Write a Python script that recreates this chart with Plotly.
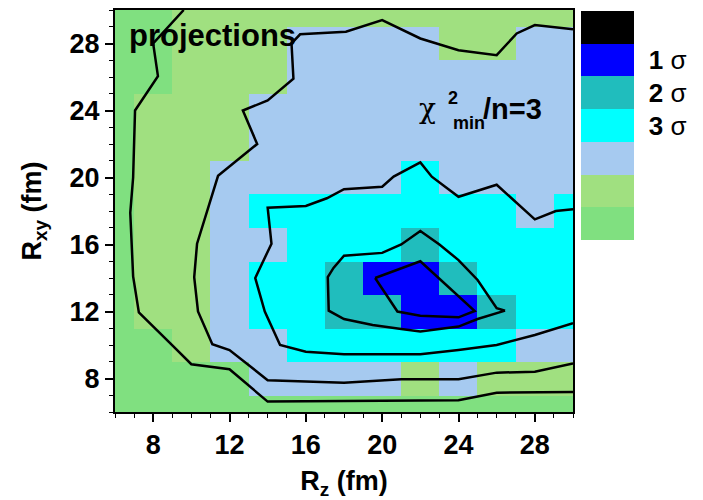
import plotly.graph_objects as go

# ---------------- data ----------------
rz_values = [6, 8, 10, 12, 14, 16, 18, 20, 22, 24, 26, 28, 30]
rxy_values_top_down = [30, 28, 26, 24, 22, 20, 18, 16, 14, 12, 10, 8, 6]

# confidence band per cell: 1 = 1 sigma, 2 = 2 sigma, 3 = 3 sigma, 4..6 = outer bands
sigma_level_rows = [
    [6, 6, 5, 5, 5, 5, 5, 5, 5, 5, 5, 5, 5],   # Rxy = 30
    [6, 6, 5, 5, 5, 4, 4, 4, 4, 5, 5, 4, 4],   # 28
    [6, 6, 5, 5, 5, 4, 4, 4, 4, 4, 4, 4, 4],   # 26
    [6, 5, 5, 5, 4, 4, 4, 4, 4, 4, 4, 4, 4],   # 24
    [6, 5, 5, 5, 4, 4, 4, 4, 4, 4, 4, 4, 4],   # 22
    [6, 5, 5, 4, 4, 4, 4, 4, 3, 4, 4, 4, 4],   # 20
    [6, 5, 5, 4, 3, 3, 3, 3, 3, 3, 3, 4, 3],   # 18
    [6, 5, 5, 4, 4, 3, 3, 3, 2, 3, 3, 3, 3],   # 16
    [6, 5, 5, 4, 3, 3, 2, 1, 1, 2, 3, 3, 3],   # 14
    [6, 5, 5, 4, 3, 3, 2, 2, 1, 1, 2, 3, 3],   # 12
    [6, 6, 5, 4, 4, 3, 3, 3, 3, 3, 3, 4, 4],   # 10
    [6, 6, 6, 6, 4, 4, 4, 4, 5, 4, 5, 5, 5],   # 8
    [6, 6, 6, 6, 6, 6, 6, 6, 6, 6, 6, 6, 6],   # 6
]

# band colours from outermost (6) to black (0)
band_colors = ["#80E080", "#A0E080", "#A6CAF0", "#00FFFF", "#20BDBD", "#0000FF", "#000000"]
sigma_ticks = [1, 2, 3]
sigma_tick_text = ["<b>1</b> σ", "<b>2</b> σ", "<b>3</b> σ"]

# contour lines (Rz, Rxy)
contour_1_rz = [19.63, 22.0, 24.85, 24.0, 22.0, 20.8, 19.63]
contour_1_rxy = [14.0, 15.0, 12.03, 11.65, 11.75, 12.0, 14.0]

contour_2_rz = [26.44, 25.0, 24.0, 22.0, 21.0, 19.5, 18.0, 17.2, 17.15, 17.45, 18.0, 20.0, 21.0, 22.0, 23.0, 24.0, 25.0, 26.0, 26.44]
contour_2_rxy = [12.05, 11.55, 11.1, 10.8, 10.95, 11.2, 11.55, 12.05, 14.05, 14.6, 15.33, 15.5, 16.0, 16.8, 16.0, 15.07, 13.88, 12.2, 12.05]

contour_3_rz = [30.0, 29.1, 28.0, 26.0, 24.0, 22.6, 22.0, 20.6, 20.0, 18.0, 17.1, 16.0, 14.0, 14.2, 13.35, 13.85, 14.65, 16.0, 18.0, 20.0, 22.0, 24.0, 26.0, 28.0, 30.0]
contour_3_rxy = [18.1, 18.0, 17.5, 19.57, 18.85, 20.05, 20.9, 20.05, 19.45, 19.3, 18.76, 18.3, 18.2, 16.05, 14.0, 12.0, 10.0, 9.6, 9.45, 9.45, 9.45, 9.7, 10.0, 10.6, 11.3]

contour_4_rz = [30.0, 28.0, 27.05, 26.0, 24.0, 22.0, 20.0, 18.1, 15.7, 15.25, 15.35, 14.0, 12.7, 13.45, 11.4, 10.3, 10.15, 10.35, 11.1, 12.0, 14.0, 18.0, 21.0, 24.0, 26.0, 28.0, 30.0]
contour_4_rxy = [28.85, 29.1, 28.6, 27.3, 27.6, 28.3, 29.4, 28.7, 28.55, 28.0, 25.9, 24.6, 24.0, 22.0, 20.1, 16.05, 14.05, 12.0, 10.05, 9.7, 7.9, 7.75, 7.95, 7.95, 8.35, 8.4, 8.9]

contour_5_rz = [9.6, 8.0, 8.25, 7.05, 6.95, 6.8, 6.95, 7.25, 8.9, 10.0, 12.0, 14.0, 20.0, 24.0, 26.0, 30.0]
contour_5_rxy = [30.0, 28.0, 26.05, 24.0, 20.0, 17.9, 14.1, 11.95, 10.1, 8.85, 8.55, 6.62, 6.67, 6.7, 7.15, 7.2]

contours = [
    (contour_1_rz, contour_1_rxy),
    (contour_2_rz, contour_2_rxy),
    (contour_3_rz, contour_3_rxy),
    (contour_4_rz, contour_4_rxy),
    (contour_5_rz, contour_5_rxy),
]

# ---------------- figure ----------------
FONT = "Liberation Sans, Arial, sans-serif"
GREEK = "DejaVu Serif, serif"

rxy_values = rxy_values_top_down[::-1]
z_vals = [[-v for v in row] for row in sigma_level_rows[::-1]]

n = len(band_colors)
colorscale = []
for i, c in enumerate(band_colors):
    colorscale.append([i / n, c])
    colorscale.append([(i + 1) / n, c])

fig = go.Figure()
fig.add_trace(go.Heatmap(
    x=rz_values, y=rxy_values, z=z_vals,
    zmin=-n + 0.5, zmax=0.5,
    colorscale=colorscale,
    hoverinfo="skip",
    colorbar=dict(
        xref="container", yref="container",
        x=581 / 703, xanchor="left",
        y=1 - 14 / 500, yanchor="top",
        lenmode="pixels", len=229,
        thickness=53, thicknessmode="pixels",
        xpad=0, ypad=0, outlinewidth=0,
        tickmode="array",
        tickvals=[-s for s in sigma_ticks],
        ticktext=sigma_tick_text,
        ticks="outside", ticklen=10, tickcolor="rgba(0,0,0,0)",
        tickfont=dict(family=FONT, size=26, color="black"),
    ),
))

for cx, cy in contours:
    fig.add_trace(go.Scatter(
        x=cx, y=cy, mode="lines",
        line=dict(color="black", width=2.5),
        showlegend=False, hoverinfo="skip",
    ))

axis_common = dict(
    showgrid=False, zeroline=False, automargin=False,
    showline=True, linecolor="black", linewidth=2, mirror=True,
    ticks="outside", ticklen=8, tickwidth=1.5, tickcolor="black",
    tick0=0, dtick=4,
    minor=dict(dtick=1, ticks="outside", ticklen=4, tickwidth=1.2, tickcolor="black"),
    tickfont=dict(family=FONT, size=27, color="black", weight="bold"),
)

fig.update_layout(
    width=703, height=500,
    margin=dict(l=115, r=130, t=10, b=88),
    paper_bgcolor="white", plot_bgcolor="white",
    showlegend=False,
    xaxis=dict(range=[6, 30], **axis_common,
               title=dict(text="R<sub>z</sub> (fm)", standoff=27,
                          font=dict(family=FONT, size=27, color="black", weight="bold"))),
    yaxis=dict(range=[6, 30], **axis_common,
               title=dict(text="R<sub>xy</sub> (fm)", standoff=20,
                          font=dict(family=FONT, size=27, color="black", weight="bold"))),
    annotations=[
        dict(x=6.65, y=28.45, xref="x", yref="y", text="projections", showarrow=False,
             xanchor="left", yanchor="middle",
             font=dict(family=FONT, size=31, color="black", weight="bold")),
        dict(x=21.85, y=24.09, xref="x", yref="y", text="χ", showarrow=False,
             xanchor="left", yanchor="middle",
             font=dict(family=GREEK, size=28, color="black")),
        dict(x=23.7, y=24.75, xref="x", yref="y", text="2", showarrow=False,
             xanchor="center", yanchor="middle",
             font=dict(family=FONT, size=18, color="black", weight="bold")),
        dict(x=23.6, y=23.25, xref="x", yref="y", text="min", showarrow=False,
             xanchor="left", yanchor="middle",
             font=dict(family=FONT, size=18, color="black", weight="bold")),
        dict(x=25.2, y=24.09, xref="x", yref="y", text="/n=3", showarrow=False,
             xanchor="left", yanchor="middle",
             font=dict(family=FONT, size=29, color="black", weight="bold")),
    ],
)

fig.write_html("out.html", config={"displayModeBar": False},
               post_script="document.body.style.margin='0px';")
